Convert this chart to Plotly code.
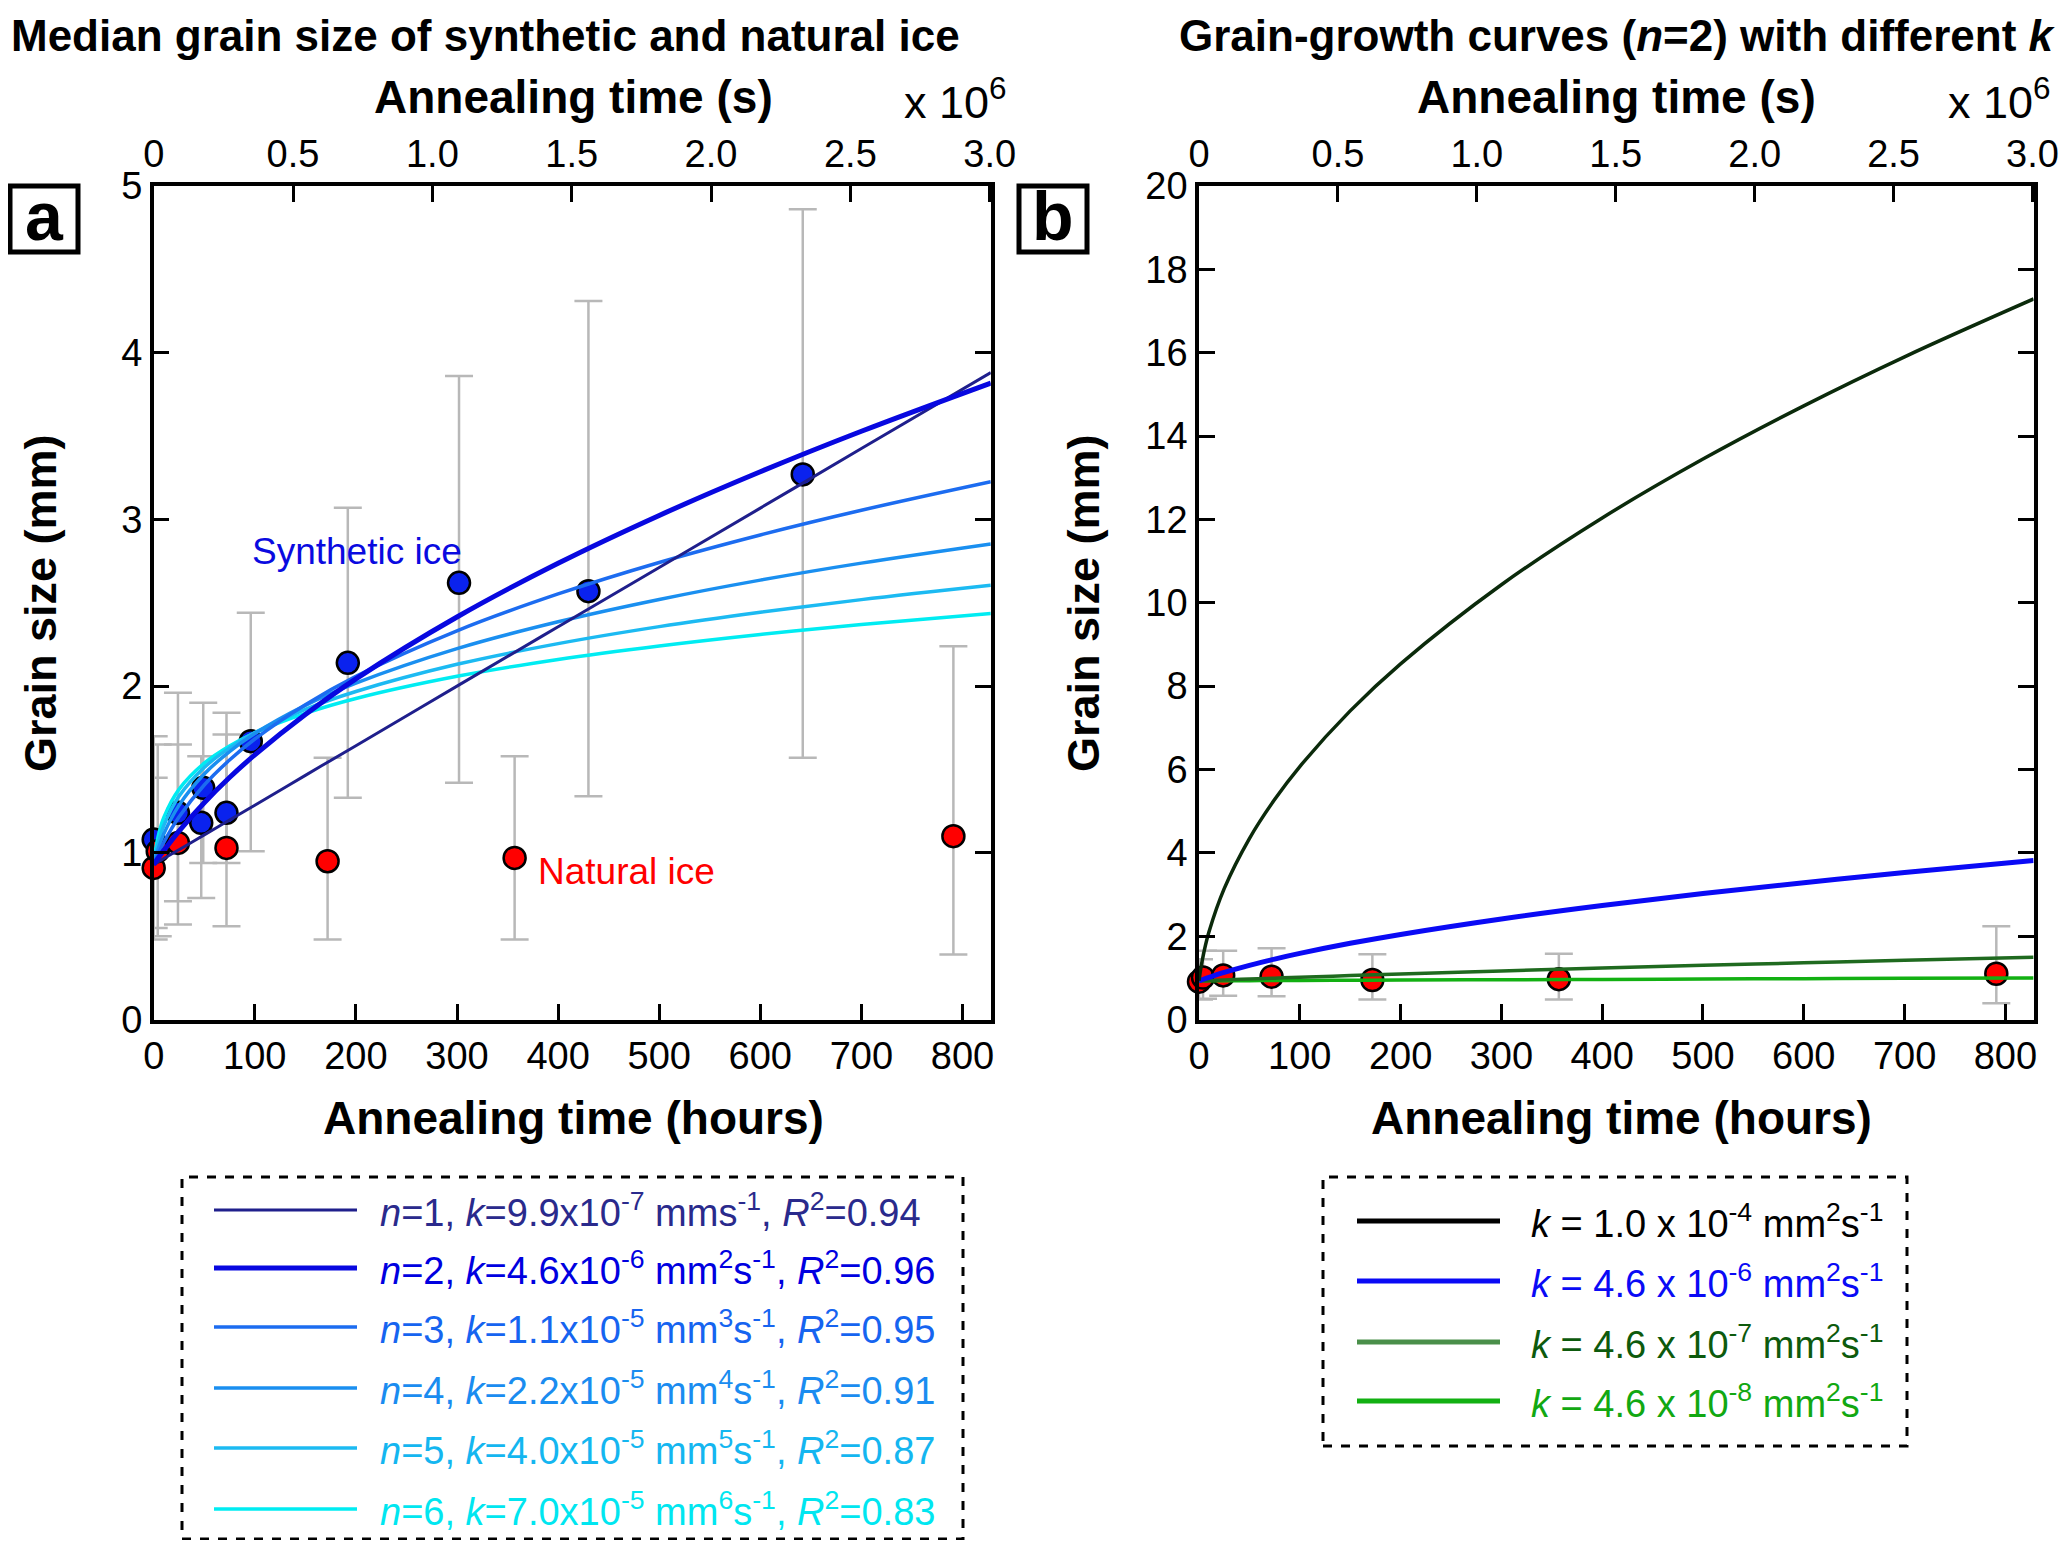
import plotly.graph_objects as go

# ---- data ----
# synthetic ice: annealing time (h), median grain size (mm), error bar low / high
syn_t = [0, 24, 47, 49, 72, 96, 192, 302, 430, 642]
syn_d = [1.08, 1.24, 1.18, 1.39, 1.24, 1.67, 2.14, 2.62, 2.57, 3.27]
syn_lo = [0.55, 0.71, 0.73, 0.94, 0.94, 1.01, 1.33, 1.42, 1.34, 1.57]
syn_hi = [1.70, 1.96, 1.58, 1.90, 1.84, 2.44, 3.07, 3.86, 4.31, 4.86]

# natural ice
nat_t = [0, 4, 24, 72, 172, 357, 791]
nat_d = [0.91, 1.01, 1.06, 1.03, 0.95, 0.97, 1.10]
nat_lo = [0.48, 0.50, 0.57, 0.56, 0.48, 0.48, 0.39]
nat_hi = [1.45, 1.65, 1.65, 1.71, 1.57, 1.58, 2.24]

# fitted grain-growth curves, sampled along the time axis (h)
curve_t = [0, 1, 2, 5, 10, 25, 50, 75, 100, 150, 200, 300, 400, 500, 600, 700, 828]
fit_n1 = [0.930, 0.934, 0.937, 0.948, 0.966, 1.019, 1.108, 1.197, 1.286, 1.465,
          1.643, 2.000, 2.356, 2.712, 3.068, 3.425, 3.881]
fit_n2 = [0.930, 0.939, 0.948, 0.974, 1.015, 1.131, 1.301, 1.452, 1.588, 1.830,
          2.044, 2.415, 2.737, 3.024, 3.286, 3.529, 3.818]
fit_n3 = [0.930, 0.945, 0.960, 1.001, 1.063, 1.215, 1.407, 1.557, 1.683, 1.889,
          2.059, 2.332, 2.553, 2.742, 2.907, 3.055, 3.226]
fit_n4 = [0.930, 0.954, 0.976, 1.034, 1.114, 1.285, 1.473, 1.608, 1.716, 1.885,
          2.018, 2.225, 2.386, 2.520, 2.636, 2.738, 2.853]
fit_n5 = [0.930, 0.966, 0.997, 1.072, 1.164, 1.339, 1.512, 1.630, 1.721, 1.861,
          1.968, 2.131, 2.255, 2.357, 2.443, 2.519, 2.605]
fit_n6 = [0.930, 0.982, 1.024, 1.114, 1.212, 1.381, 1.538, 1.641, 1.720, 1.837,
          1.926, 2.059, 2.160, 2.241, 2.310, 2.370, 2.436]

# panel b: n=2 curves with different k
fit_k1 = [0.930, 1.107, 1.259, 1.633, 2.113, 3.141, 4.343, 5.279, 6.072, 7.407,
          8.536, 10.434, 12.036, 13.449, 14.726, 15.902, 17.290]
fit_k2 = fit_n2
fit_k3 = [0.930, 0.931, 0.932, 0.934, 0.939, 0.952, 0.974, 0.995, 1.015, 1.056,
          1.094, 1.167, 1.236, 1.301, 1.363, 1.423, 1.496]
fit_k4 = [0.930, 0.930, 0.930, 0.931, 0.931, 0.932, 0.935, 0.937, 0.939, 0.943,
          0.948, 0.956, 0.965, 0.973, 0.982, 0.990, 1.001]

legend_a = [
    "<i>n</i>=1, <i>k</i>=9.9x10<sup>-7</sup> mms<sup>-1</sup>, <i>R</i><sup>2</sup>=0.94",
    "<i>n</i>=2, <i>k</i>=4.6x10<sup>-6</sup> mm<sup>2</sup>s<sup>-1</sup>, <i>R</i><sup>2</sup>=0.96",
    "<i>n</i>=3, <i>k</i>=1.1x10<sup>-5</sup> mm<sup>3</sup>s<sup>-1</sup>, <i>R</i><sup>2</sup>=0.95",
    "<i>n</i>=4, <i>k</i>=2.2x10<sup>-5</sup> mm<sup>4</sup>s<sup>-1</sup>, <i>R</i><sup>2</sup>=0.91",
    "<i>n</i>=5, <i>k</i>=4.0x10<sup>-5</sup> mm<sup>5</sup>s<sup>-1</sup>, <i>R</i><sup>2</sup>=0.87",
    "<i>n</i>=6, <i>k</i>=7.0x10<sup>-5</sup> mm<sup>6</sup>s<sup>-1</sup>, <i>R</i><sup>2</sup>=0.83",
]
legend_b = [
    "<i>k</i> = 1.0 x 10<sup>-4</sup> mm<sup>2</sup>s<sup>-1</sup>",
    "<i>k</i> = 4.6 x 10<sup>-6</sup> mm<sup>2</sup>s<sup>-1</sup>",
    "<i>k</i> = 4.6 x 10<sup>-7</sup> mm<sup>2</sup>s<sup>-1</sup>",
    "<i>k</i> = 4.6 x 10<sup>-8</sup> mm<sup>2</sup>s<sup>-1</sup>",
]

sec_ticks = [0, 0.5e6, 1.0e6, 1.5e6, 2.0e6, 2.5e6, 3.0e6]
sec_labels = ["0", "0.5", "1.0", "1.5", "2.0", "2.5", "3.0"]

# ---- styling ----
# the page body has an 8px margin, so the figure is a little smaller and
# every position below is given in window pixels and shifted by that margin
OFF = 8
W, H = 2067 - OFF, 1548 - 2 * OFF
FONT = "Liberation Sans"
col_a = ["#1f1f8c", "#0808e0", "#1c6cf0", "#1a8ff0", "#1cbaf2", "#00ecf2"]
txt_a = ["#2a2a8c", "#0000e0", "#1664f0", "#1a8cf0", "#14b6f0", "#00e6f0"]
wid_a = [3, 5, 3.5, 3.5, 3.5, 3.5]
col_b_line = ["#0b2a0b", "#0a0af5", "#1f6a1f", "#12b012"]
col_b_leg = ["#000000", "#0a0af5", "#4a8f4a", "#12b012"]
txt_b = ["#000000", "#0a0af5", "#0d5a0d", "#12a812"]
GREY = "#b8b8b8"


def px(x):
    return (x - OFF) / W


def py(y):
    return 1 - (y - OFF) / H


fig = go.Figure()


def add_points(t, d, lo, hi, xa, ya):
    # error bars first so the markers sit on top
    fig.add_trace(go.Scatter(
        x=t, y=d, mode="markers", xaxis=xa, yaxis=ya, showlegend=False,
        marker=dict(size=1, color="rgba(0,0,0,0)"), cliponaxis=False,
        error_y=dict(type="data", symmetric=False,
                     array=[h - v for h, v in zip(hi, d)],
                     arrayminus=[v - l for l, v in zip(lo, d)],
                     color=GREY, thickness=2.5, width=14)))


def add_markers(t, d, colour, xa, ya):
    fig.add_trace(go.Scatter(
        x=t, y=d, mode="markers", xaxis=xa, yaxis=ya, showlegend=False,
        cliponaxis=False,
        marker=dict(size=22, color=colour, line=dict(color="black", width=2.5))))


# panel a
add_points(nat_t, nat_d, nat_lo, nat_hi, "x", "y")
add_points(syn_t, syn_d, syn_lo, syn_hi, "x", "y")
add_markers(syn_t, syn_d, "#0a22ee", "x", "y")
add_markers(nat_t, nat_d, "#ff0000", "x", "y")
fits = [fit_n1, fit_n2, fit_n3, fit_n4, fit_n5, fit_n6]
for i in [5, 4, 3, 2, 0, 1]:
    fig.add_trace(go.Scatter(x=curve_t, y=fits[i], mode="lines", line_shape="spline",
                             line=dict(color=col_a[i], width=wid_a[i]),
                             xaxis="x", yaxis="y", showlegend=False))

# panel b
add_points(nat_t, nat_d, nat_lo, nat_hi, "x2", "y2")
add_markers(nat_t, nat_d, "#ff0000", "x2", "y2")
fits_b = [fit_k1, fit_k2, fit_k3, fit_k4]
wid_b = [3.5, 5, 3.5, 3.5]
for i in [3, 2, 1, 0]:
    fig.add_trace(go.Scatter(x=curve_t, y=fits_b[i], mode="lines", line_shape="spline",
                             line=dict(color=col_b_line[i], width=wid_b[i]),
                             xaxis="x2", yaxis="y2", showlegend=False))

# empty traces so the top (seconds) axes get drawn
fig.add_trace(go.Scatter(x=sec_ticks, y=[None] * len(sec_ticks), xaxis="x3", yaxis="y",
                         mode="lines", showlegend=False, hoverinfo="skip"))
fig.add_trace(go.Scatter(x=sec_ticks, y=[None] * len(sec_ticks), xaxis="x4", yaxis="y2",
                         mode="lines", showlegend=False, hoverinfo="skip"))

dom_a = [px(153.7), px(990.8)]
dom_b = [px(1199), px(2033.6)]
dom_y = [py(1019.6), py(186)]

tickfont = dict(family=FONT, size=38, color="black")
common = dict(showline=True, linecolor="black", linewidth=3.5, ticks="inside",
              ticklen=16, tickwidth=3, tickcolor="black", showgrid=False,
              zeroline=False, tickfont=tickfont, automargin=False)

fig.update_layout(
    width=W, height=H, margin=dict(l=0, r=0, t=0, b=0, pad=0),
    paper_bgcolor="white", plot_bgcolor="white", showlegend=False,
    font=dict(family=FONT, color="black"),
    xaxis=dict(domain=dom_a, range=[0, 828], anchor="y", tickvals=list(range(0, 801, 100)), **common),
    yaxis=dict(domain=dom_y, range=[0, 5], anchor="x", mirror="ticks", dtick=1, **common),
    xaxis3=dict(range=[0, 3.004e6], overlaying="x", side="top", anchor="y",
                tickvals=sec_ticks, ticktext=sec_labels, **common),
    xaxis2=dict(domain=dom_b, range=[0, 828], anchor="y2", tickvals=list(range(0, 801, 100)), **common),
    yaxis2=dict(domain=dom_y, range=[0, 20], anchor="x2", mirror="ticks", dtick=2, **common),
    xaxis4=dict(range=[0, 3.004e6], overlaying="x2", side="top", anchor="y2",
                tickvals=sec_ticks, ticktext=sec_labels, **common),
)

ann = []


def text(x, y, s, size=38, bold=False, color="black", xanchor="center", angle=0):
    if bold:
        s = "<b>" + s + "</b>"
    ann.append(dict(x=px(x), y=py(y), xref="paper", yref="paper", text=s, showarrow=False,
                    xanchor=xanchor, yanchor="middle", textangle=angle,
                    font=dict(family=FONT, size=size, color=color)))


text(9, 36, "Median grain size of synthetic and natural ice", size=44, bold=True, xanchor="left")
text(2058, 36, "Grain-growth curves (<i>n</i>=2) with different <i>k</i>", size=44, bold=True,
     xanchor="right")
text(573, 97, "Annealing time (s)", size=46, bold=True)
text(1616, 97, "Annealing time (s)", size=46, bold=True)
text(955, 99, "x 10<sup>6</sup>", size=45)
text(1999, 99, "x 10<sup>6</sup>", size=45)
text(573, 1118, "Annealing time (hours)", size=46, bold=True)
text(1621, 1118, "Annealing time (hours)", size=46, bold=True)
text(40, 603, "Grain size (mm)", size=45, bold=True, angle=-90)
text(1083, 603, "Grain size (mm)", size=45, bold=True, angle=-90)

# panel letters
shapes = []
for x0, letter in [(10, "a"), (1019, "b")]:
    shapes.append(dict(type="rect", xref="paper", yref="paper", x0=px(x0), x1=px(x0 + 68),
                       y0=py(252), y1=py(186), line=dict(color="black", width=5)))
    text(x0 + 34, 216, letter, size=68, bold=True)

# in-plot labels
ann.append(dict(x=95, y=2.81, xref="x", yref="y", text="Synthetic ice", showarrow=False,
                xanchor="left", font=dict(family=FONT, size=37, color="#0a0ae0")))
ann.append(dict(x=378, y=0.89, xref="x", yref="y", text="Natural ice", showarrow=False,
                xanchor="left", font=dict(family=FONT, size=37, color="#ff0000")))

# legend a (dashed box)
shapes.append(dict(type="rect", xref="paper", yref="paper", x0=px(182), x1=px(963),
                   y0=py(1539), y1=py(1177), line=dict(color="black", width=3, dash="dash")))
rows_a = [1210, 1268, 1327, 1388, 1448, 1509]
for i, ry in enumerate(rows_a):
    shapes.append(dict(type="line", xref="paper", yref="paper", x0=px(214), x1=px(357),
                       y0=py(ry), y1=py(ry), line=dict(color=col_a[i], width=wid_a[i])))
    text(378, ry, legend_a[i], size=38, color=txt_a[i], xanchor="left")

# legend b
shapes.append(dict(type="rect", xref="paper", yref="paper", x0=px(1323), x1=px(1907),
                   y0=py(1446), y1=py(1177), line=dict(color="black", width=3, dash="dash")))
rows_b = [1221, 1281, 1342, 1401]
for i, ry in enumerate(rows_b):
    shapes.append(dict(type="line", xref="paper", yref="paper", x0=px(1357), x1=px(1500),
                       y0=py(ry), y1=py(ry), line=dict(color=col_b_leg[i], width=5)))
    text(1529, ry, legend_b[i], size=38, color=txt_b[i], xanchor="left")

fig.update_layout(annotations=ann, shapes=shapes)
fig.write_html("out.html")
